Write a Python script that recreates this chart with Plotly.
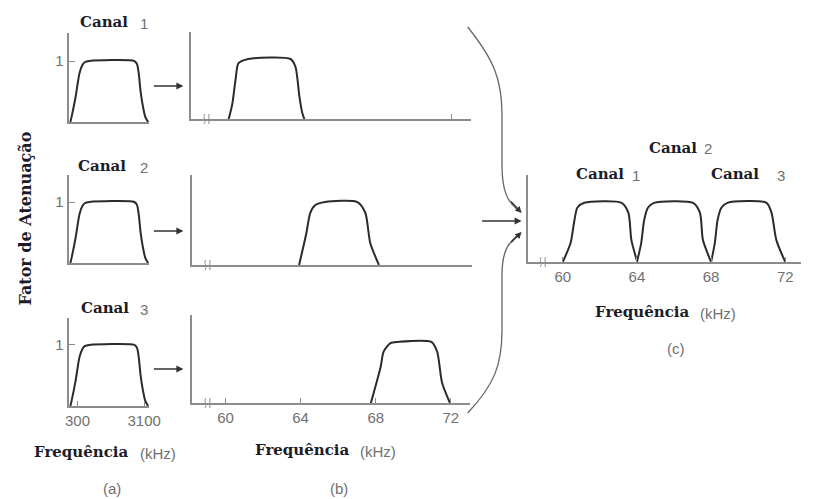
import plotly.graph_objects as go

W, H = 814, 499

# ---------------- data ----------------
# (a) baseband channel response, frequency in Hz, relative gain
a_freq_hz = [0, 60, 218, 383, 500, 600, 800, 2689, 2800, 2870, 2950, 3050, 3150, 3265]
a_gain = [0, 0.10, 0.41, 0.80, 0.93, 0.98, 1.0, 1.0, 0.95, 0.80, 0.50, 0.25, 0.08, 0]

# (b) shifted channels, frequency in kHz
b1_freq = [60.21, 60.40, 60.57, 60.73, 61.25, 63.48, 63.74, 63.95, 64.10, 64.21]
b1_gain = [0, 0.25, 0.65, 0.93, 1.0, 1.0, 0.87, 0.37, 0.10, 0]
b2_freq = [63.88, 64.26, 64.47, 64.73, 65.25, 66.96, 67.38, 67.64, 68.10]
b2_gain = [0, 0.50, 0.83, 0.95, 1.0, 1.0, 0.83, 0.35, 0]
b3_freq = [67.74, 68.26, 68.42, 68.78, 69.19, 70.96, 71.27, 71.53, 71.95]
b3_gain = [0, 0.59, 0.84, 0.98, 1.0, 1.0, 0.84, 0.33, 0]

# (c) multiplexed spectrum, kHz
c1_freq = [60.0, 60.42, 60.63, 60.79, 61.16, 63.17, 63.54, 63.70, 64.02]
c1_gain = [0, 0.32, 0.71, 0.92, 1.0, 1.0, 0.83, 0.37, 0]
c2_freq = [64.0, 64.23, 64.39, 64.60, 64.92, 67.03, 67.40, 67.56, 68.0]
c2_gain = [0, 0.32, 0.71, 0.92, 1.0, 1.0, 0.83, 0.37, 0]
c3_freq = [68.0, 68.20, 68.35, 68.56, 68.88, 70.99, 71.26, 71.52, 72.0]
c3_gain = [0, 0.32, 0.71, 0.92, 1.0, 1.0, 0.83, 0.37, 0]

a_ticks = [300, 3100]
a_ticktext = ["300", "3100"]
khz_ticks = [60, 64, 68, 72]
khz_ticktext = ["60", "64", "68", "72"]
channel_names = ["Canal", "Canal", "Canal"]
channel_nums = ["1", "2", "3"]
freq_label = "Frequência"
unit_label = "(kHz)"
y_title = "Fator de Atenuação"
panel_tags = ["(a)", "(b)", "(c)"]

# ---------------- layout helpers ----------------
def fx(p):
    return p / W

def fy(p):
    return 1 - p / H

AXIS_COL = "#8c8c8c"
CURVE_COL = "#2b2b2b"
TXT_DARK = "#1c1c28"
TXT_GRAY = "#707070"
SERIF = "DejaVu Serif"
SANS = "Liberation Sans"

# panel: (x0, x1, ytop, ybottom) in px, xrange, yrange
panels = [
    ("a1", (66, 148, 33, 122), [-70, 3306], [0, 1.46]),
    ("a2", (66, 148, 175, 263), [-70, 3306], [0, 1.443]),
    ("a3", (66, 148, 318, 406), [-70, 3306], [0, 1.44]),
    ("b1", (191, 476, 32, 119), [58.23, 73.0], [0, 1.45]),
    ("b2", (192, 477, 175, 265), [58.23, 73.0], [0, 1.43]),
    ("b3", (192, 475, 315, 403), [58.23, 73.0], [0, 1.44]),
    ("c", (535, 813, 175, 262), [58.15, 72.85], [0, 1.47]),
]

series = {
    "a1": [(a_freq_hz, a_gain)],
    "a2": [(a_freq_hz, a_gain)],
    "a3": [(a_freq_hz, a_gain)],
    "b1": [(b1_freq, b1_gain)],
    "b2": [(b2_freq, b2_gain)],
    "b3": [(b3_freq, b3_gain)],
    "c": [(c1_freq, c1_gain), (c2_freq, c2_gain), (c3_freq, c3_gain)],
}

fig = go.Figure()
layout = dict(
    width=W, height=H, margin=dict(l=0, r=0, t=0, b=0),
    paper_bgcolor="white", plot_bgcolor="white", showlegend=False,
)

for i, (name, (x0, x1, yt, yb), xr, yr) in enumerate(panels, start=1):
    xa = "xaxis" if i == 1 else f"xaxis{i}"
    ya = "yaxis" if i == 1 else f"yaxis{i}"
    xref = "x" if i == 1 else f"x{i}"
    yref = "y" if i == 1 else f"y{i}"
    xcfg = dict(domain=[fx(x0), fx(x1)], range=xr, anchor=yref,
                showline=True, linecolor=AXIS_COL, linewidth=2,
                showgrid=False, zeroline=False, fixedrange=True,
                tickfont=dict(family=SANS, size=15, color=TXT_GRAY),
                ticks="", showticklabels=False)
    ycfg = dict(domain=[fy(yb), fy(yt)], range=yr, anchor=xref,
                showline=True, linecolor=AXIS_COL, linewidth=2,
                showgrid=False, zeroline=False, fixedrange=True,
                tickfont=dict(family=SANS, size=15, color=TXT_GRAY),
                ticks="", showticklabels=False)
    if name.startswith("a"):
        ycfg.update(tickvals=[1], ticktext=["1"], ticks="inside", ticklen=6,
                    tickcolor=AXIS_COL, tickwidth=1, showticklabels=True)
    if name == "a3":
        xcfg.update(tickvals=a_ticks, ticktext=a_ticktext, ticks="inside",
                    ticklen=5, tickcolor=AXIS_COL, tickwidth=1, showticklabels=True)
    if name in ("b3", "c"):
        xcfg.update(tickvals=khz_ticks, ticktext=khz_ticktext, ticks="inside",
                    ticklen=5, tickcolor=AXIS_COL, tickwidth=1, showticklabels=True)
    if name == "b1":
        xcfg.update(tickvals=[khz_ticks[-1]], ticks="inside", ticklen=5,
                    tickcolor=AXIS_COL, tickwidth=1)
    layout[xa] = xcfg
    layout[ya] = ycfg
    for xs, ys in series[name]:
        fig.add_trace(go.Scatter(x=xs, y=ys, xaxis=xref, yaxis=yref, mode="lines",
                                 line=dict(color=CURVE_COL, width=2, shape="spline",
                                           smoothing=0.7),
                                 hoverinfo="skip"))

fig.update_layout(**layout)

ann = []

def text(px, py, s, size=14, color=TXT_DARK, family=SERIF, bold=False, angle=0):
    ann.append(dict(x=fx(px), y=fy(py), xref="paper", yref="paper",
                    text=f"<b>{s}</b>" if bold else s, showarrow=False,
                    font=dict(family=family, size=size, color=color),
                    xanchor="center", yanchor="middle", textangle=angle))

# channel titles (a)
for (cx, cy), nm, num in zip([(102, 22), (100, 166), (103, 308)], channel_names, channel_nums):
    text(cx, cy, nm, size=15, bold=True)
    text(143, cy + 1, num, size=15, color=TXT_GRAY, family=SANS)

# channel titles (c)
for (cx, cy, nx), nm, num in zip([(608, 174, 645), (682, 148, 718), (746, 174, 793)],
                                 channel_names, channel_nums):
    text(cx, cy, nm, size=15, bold=True)
    text(nx, cy + 1, num, size=15, color=TXT_GRAY, family=SANS)

# frequency labels
for (fxp, uxp, py) in [(79, 157, 452), (304, 382, 450), (651, 728, 312)]:
    text(fxp, py, freq_label, size=15, bold=True)
    text(uxp, py + 1, unit_label, size=15, color=TXT_GRAY, family=SANS)

for (px, py), tag in zip([(110, 488), (342, 488), (685, 348)], panel_tags):
    text(px, py, tag, size=15, color=TXT_GRAY, family=SANS)

text(21, 219, y_title, size=16, bold=True, angle=-90)

# arrows
def arrow(hx, hy, tx, ty, width=1.4, head=2, size=1.0, color="#333333"):
    ann.append(dict(x=fx(hx), y=fy(hy), xref="paper", yref="paper",
                    ax=tx - hx, ay=ty - hy, axref="pixel", ayref="pixel",
                    text="", showarrow=True, arrowhead=head, arrowsize=size,
                    arrowwidth=width, arrowcolor=color))

for yy in (86, 231, 369):
    arrow(183, yy, 152, yy)
arrow(528, 221, 487, 221)
arrow(528, 213, 516, 200, width=1.3)
arrow(528, 232, 516, 244, width=1.3)

fig.update_layout(annotations=ann)

def P(x, y):
    return f"{fx(x):.5f},{fy(y):.5f}"

shapes = []
# curved arrows feeding the multiplexer
top_path = (f"M {P(473, 27)} C {P(500, 60)} {P(508, 80)} {P(508, 115)} "
            f"L {P(508, 165)} C {P(508, 192)} {P(514, 202)} {P(524, 210)}")
bot_path = (f"M {P(473, 413)} C {P(500, 385)} {P(508, 365)} {P(508, 330)} "
            f"L {P(508, 275)} C {P(508, 252)} {P(514, 243)} {P(524, 235)}")
for pth in (top_path, bot_path):
    shapes.append(dict(type="path", path=pth, xref="paper", yref="paper",
                       line=dict(color="#666666", width=1.3)))

# axis-break marks
for bx, by in [(204, 119), (205, 265), (205, 403), (547, 262)]:
    shapes.append(dict(type="path", xref="paper", yref="paper",
                       path=f"M {P(bx + 1, by - 5)} C {P(bx - 2, by - 2)} {P(bx + 3, by + 2)} {P(bx, by + 5)}",
                       line=dict(color=AXIS_COL, width=1)))
    shapes.append(dict(type="line", xref="paper", yref="paper",
                       x0=fx(bx + 5), x1=fx(bx + 5), y0=fy(by - 5), y1=fy(by + 5),
                       line=dict(color=AXIS_COL, width=1)))

fig.update_layout(shapes=shapes)
fig.write_html(
    "out.html",
    config={"responsive": False, "displayModeBar": False},
    post_script="document.body.style.margin='0';document.body.style.overflow='hidden';",
)
